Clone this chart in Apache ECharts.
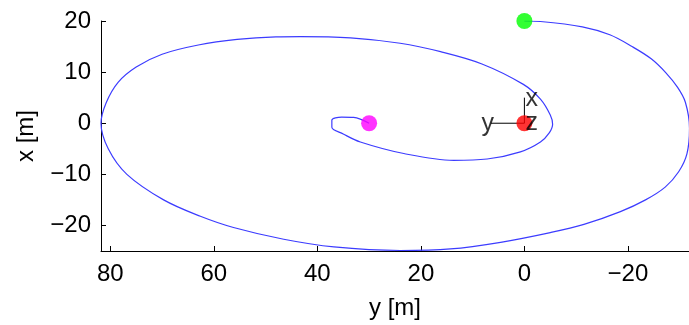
<!DOCTYPE html>
<html>
<head>
<meta charset="utf-8">
<script src="https://cdn.jsdelivr.net/npm/echarts@6/dist/echarts.min.js"></script>
<style>
  html, body { margin: 0; padding: 0; background: #fff; }
  #chart { width: 689px; height: 325px; }
</style>
</head>
<body>
<div id="chart"></div>
<script>
// Relative trajectory in the local frame: each point is [y, x] in metres
const trajectoryY = [0, -3.1, -11.2, -16.5, -20.8, -24.5, -27.3, -29.6, -31.1, -31.9, -31.4, -29.8, -27.2, -23.4, -18.55, -11.5, -5.0, 4.6, 14.3, 24.0, 36.8, 46.5, 56.2, 62.6, 69.7, 76.8, 80.4, 81.8, 80.8, 78.5, 75.0, 70.0, 63.0, 55.5, 48.0, 43.3, 33.6, 24.0, 16.2, 8.2, 0.2, -3.1, -5.0, -5.45, -4.8, -3.1, 0.77, 7.2, 13.66, 23.3, 31.7, 35.0, 37.2, 37.2, 35.3, 33.0, 30];
const trajectoryX = [20, 19.9, 18.86, 17.3, 15.0, 12.6, 9.9, 7.0, 4.1, -1.0, -6.0, -9.5, -12.5, -15.0, -17.3, -19.8, -21.4, -23.3, -24.6, -24.9, -24.2, -22.7, -20.4, -18.2, -15.0, -10.0, -5.0, 0, 4.0, 8.0, 11.0, 13.5, 15.3, 16.4, 16.9, 16.95, 16.7, 15.65, 14.0, 11.6, 7.6, 4.7, 1.6, -0.2, -1.9, -3.67, -5.6, -7.0, -7.25, -5.93, -3.67, -2.1, -0.8, 0.6, 1.2, 1.15, 0];

// Start, end and reference-origin markers: [y, x]
const startPoint = [0, 20];
const endPoint = [30, 0];
const originPoint = [0, 0];

// Body-frame axis glyph at the origin
const frameXAxisEnd = [0, 5];
const frameYAxisEnd = [6.5, 0];

const yTicks = [80, 60, 40, 20, 0, -20];
const xTicks = [20, 10, 0, -10, -20];

const FONT = "'Liberation Sans', Arial, sans-serif";
const fmt = v => String(v).replace('-', '\u2212');

const trajectory = trajectoryY.map((v, i) => [v, trajectoryX[i]]);

const chart = echarts.init(document.getElementById('chart'), null, { renderer: 'canvas' });
chart.setOption({
  animation: false,
  backgroundColor: '#ffffff',
  grid: { left: 101, right: 0, top: 21, bottom: 72, containLabel: false },
  xAxis: {
    type: 'value',
    inverse: true,
    min: -31.8,
    max: 81.8,
    name: 'y [m]',
    nameLocation: 'middle',
    nameGap: 45,
    nameTextStyle: { color: '#000', fontSize: 24, fontFamily: FONT },
    axisLine: { show: true, onZero: false, lineStyle: { color: '#000', width: 1 } },
    axisTick: { show: true, inside: true, length: 5, customValues: yTicks, lineStyle: { color: '#000' } },
    axisLabel: { color: '#000', fontSize: 24, fontFamily: FONT, margin: 11, customValues: yTicks, formatter: fmt },
    splitLine: { show: false }
  },
  yAxis: {
    type: 'value',
    min: -25,
    max: 20,
    name: 'x [m]',
    nameLocation: 'middle',
    nameGap: 63,
    nameTextStyle: { color: '#000', fontSize: 24, fontFamily: FONT },
    axisLine: { show: true, onZero: false, lineStyle: { color: '#000', width: 1 } },
    axisTick: { show: true, inside: true, length: 5, customValues: xTicks, lineStyle: { color: '#000' } },
    axisLabel: { color: '#000', fontSize: 24, fontFamily: FONT, margin: 10, customValues: xTicks, formatter: fmt },
    splitLine: { show: false }
  },
  series: [
    {
      name: 'trajectory',
      type: 'line',
      data: trajectory,
      smooth: 0.35,
      showSymbol: false,
      lineStyle: { color: '#3c3cff', width: 1.2 },
      z: 2
    },
    {
      name: 'frame-x',
      type: 'line',
      data: [originPoint, frameXAxisEnd],
      showSymbol: false,
      lineStyle: { color: '#000', width: 1 },
      z: 3
    },
    {
      name: 'frame-y',
      type: 'line',
      data: [originPoint, frameYAxisEnd],
      showSymbol: false,
      lineStyle: { color: '#000', width: 1 },
      z: 3
    },
    {
      name: 'markers',
      type: 'scatter',
      symbolSize: 16,
      data: [
        { value: startPoint, itemStyle: { color: '#00ff00' } },
        { value: endPoint, itemStyle: { color: '#ff00ff' } },
        { value: originPoint, itemStyle: { color: '#ff0000' } }
      ],
      z: 4
    },
    {
      name: 'frame-labels',
      type: 'scatter',
      symbolSize: 0,
      data: [
        { value: frameXAxisEnd, label: { formatter: 'x', align: 'left', offset: [1, 1] } },
        { value: frameYAxisEnd, label: { formatter: 'y', align: 'center', offset: [-3, 1] } },
        { value: originPoint, label: { formatter: 'z', align: 'left', offset: [1, 0] } }
      ],
      label: {
        show: true,
        position: 'inside',
        verticalAlign: 'middle',
        color: '#000',
        fontSize: 25,
        fontFamily: FONT
      },
      z: 5
    }
  ]
});
</script>
</body>
</html>
